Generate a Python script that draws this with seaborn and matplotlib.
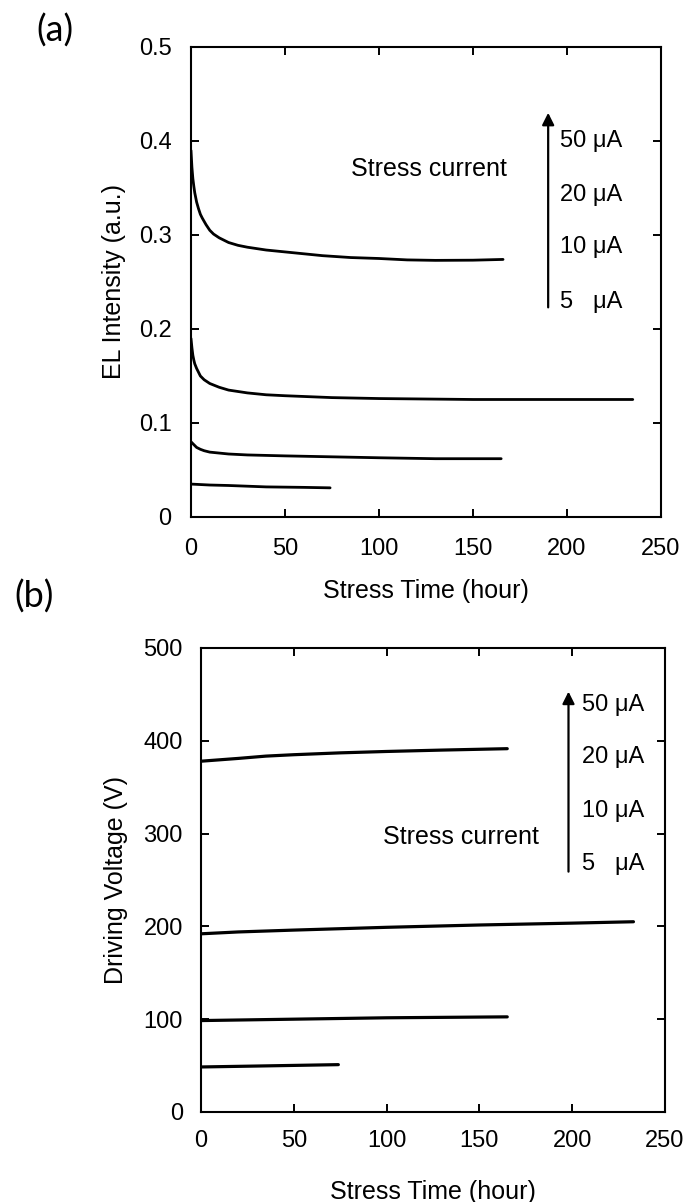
import numpy as np
import pandas as pd
import seaborn as sns
import matplotlib.pyplot as plt

# (a) EL intensity vs stress time
el_t_50 = [0, 0.5, 1, 1.5, 2, 3, 4, 5, 6, 8, 10, 12, 15, 20, 25, 30, 40, 50, 60, 70,
           85, 100, 115, 130, 150, 166]
el_v_50 = [0.39, 0.372, 0.36, 0.352, 0.345, 0.335, 0.328, 0.322, 0.318, 0.311, 0.305,
           0.301, 0.297, 0.292, 0.289, 0.287, 0.284, 0.282, 0.280, 0.278, 0.276, 0.275,
           0.2735, 0.273, 0.2732, 0.274]
el_t_20 = [0, 0.5, 1, 1.5, 2, 3, 4, 5, 7, 10, 15, 20, 30, 40, 50, 75, 100, 150, 200, 235]
el_v_20 = [0.19, 0.18, 0.172, 0.167, 0.163, 0.158, 0.154, 0.150, 0.146, 0.142, 0.138,
           0.135, 0.132, 0.130, 0.129, 0.127, 0.126, 0.125, 0.125, 0.125]
el_t_10 = [0, 1, 2, 3, 5, 7, 10, 15, 20, 30, 50, 75, 100, 130, 165]
el_v_10 = [0.08, 0.078, 0.076, 0.074, 0.072, 0.0705, 0.069, 0.068, 0.067, 0.066, 0.065,
           0.064, 0.063, 0.062, 0.062]
el_t_5 = [0, 10, 20, 40, 60, 74]
el_v_5 = [0.035, 0.034, 0.0335, 0.032, 0.0315, 0.031]

# (b) driving voltage vs stress time
dv_t_50 = [0, 10, 20, 35, 50, 75, 100, 130, 165]
dv_v_50 = [378, 379.5, 381, 383.5, 385, 387, 388.5, 390, 391.5]
dv_t_20 = [0, 20, 50, 100, 150, 200, 233]
dv_v_20 = [192, 194, 196, 199, 201.5, 203.5, 205]
dv_t_10 = [0, 50, 100, 165]
dv_v_10 = [98.5, 100, 101.5, 102.5]
dv_t_5 = [0, 30, 74]
dv_v_5 = [48.5, 49.5, 51]

current_labels = ["50 μA", "20 μA", "10 μA", "5   μA"]

sns.set_theme(style="ticks")
plt.rcParams['font.family'] = ['Liberation Sans', 'DejaVu Sans']
plt.rcParams['text.color'] = 'black'
plt.rcParams['axes.labelcolor'] = 'black'
plt.rcParams['xtick.color'] = 'black'
plt.rcParams['ytick.color'] = 'black'

fig = plt.figure(figsize=(6.86, 12.02), dpi=100)
ax_a = fig.add_axes([0.2784, 0.5699, 0.6851, 0.3910])
ax_b = fig.add_axes([0.2930, 0.0749, 0.6764, 0.3860])

for t, v in [(el_t_50, el_v_50), (el_t_20, el_v_20), (el_t_10, el_v_10), (el_t_5, el_v_5)]:
    sns.lineplot(x=t, y=v, ax=ax_a, color='black', lw=2.0)
for t, v in [(dv_t_50, dv_v_50), (dv_t_20, dv_v_20), (dv_t_10, dv_v_10), (dv_t_5, dv_v_5)]:
    sns.lineplot(x=t, y=v, ax=ax_b, color='black', lw=2.3)

for ax in (ax_a, ax_b):
    ax.set_xlim(0, 250)
    ax.set_xticks([0, 50, 100, 150, 200, 250])
    ax.tick_params(direction='in', top=True, right=True, length=6, width=1.4,
                   labelsize=17, colors='black')
    for s in ax.spines.values():
        s.set_linewidth(1.5)
        s.set_color('black')

ax_a.set_ylim(0, 0.5)
ax_a.set_yticks([0, 0.1, 0.2, 0.3, 0.4, 0.5])
ax_a.set_yticklabels(['0', '0.1', '0.2', '0.3', '0.4', '0.5'])
ax_a.tick_params(axis='y', pad=14)
ax_a.tick_params(axis='x', pad=15)
ax_a.set_xlabel("Stress Time (hour)", fontsize=18, labelpad=14)
ax_a.set_ylabel("EL Intensity (a.u.)", fontsize=18, labelpad=9)

ax_b.set_ylim(0, 500)
ax_b.set_yticks([0, 100, 200, 300, 400, 500])
ax_b.tick_params(axis='y', pad=13)
ax_b.tick_params(axis='x', pad=13)
ax_b.set_xlabel("Stress Time (hour)", fontsize=18, labelpad=20)
ax_b.set_ylabel("Driving Voltage (V)", fontsize=18, labelpad=11)

# annotations panel (a)
ax_a.text(85, 0.37, "Stress current", fontsize=18, va='center', ha='left')
ax_a.annotate("", xy=(190, 0.43), xytext=(190, 0.223),
              arrowprops=dict(arrowstyle='-|>', color='black', lw=1.6,
                              mutation_scale=18, shrinkA=0, shrinkB=0))
for lab, yy in zip(current_labels, [0.400, 0.343, 0.287, 0.229]):
    ax_a.text(196.5, yy, lab, fontsize=17, va='center', ha='left')

# annotations panel (b)
ax_b.text(98, 296, "Stress current", fontsize=18, va='center', ha='left')
ax_b.annotate("", xy=(198, 453), xytext=(198, 259),
              arrowprops=dict(arrowstyle='-|>', color='black', lw=1.6,
                              mutation_scale=18, shrinkA=0, shrinkB=0))
for lab, yy in zip(current_labels, [439, 382, 324, 267]):
    ax_b.text(205.5, yy, lab, fontsize=17, va='center', ha='left')

fig.text(55 / 686, 1 - 31 / 1202, "(a)", fontsize=26, ha='center', va='center',
         family=['Lato', 'DejaVu Sans'])
fig.text(34 / 686, 1 - 597 / 1202, "(b)", fontsize=26, ha='center', va='center',
         family=['Lato', 'DejaVu Sans'])

fig.savefig("out.png", dpi=100)
